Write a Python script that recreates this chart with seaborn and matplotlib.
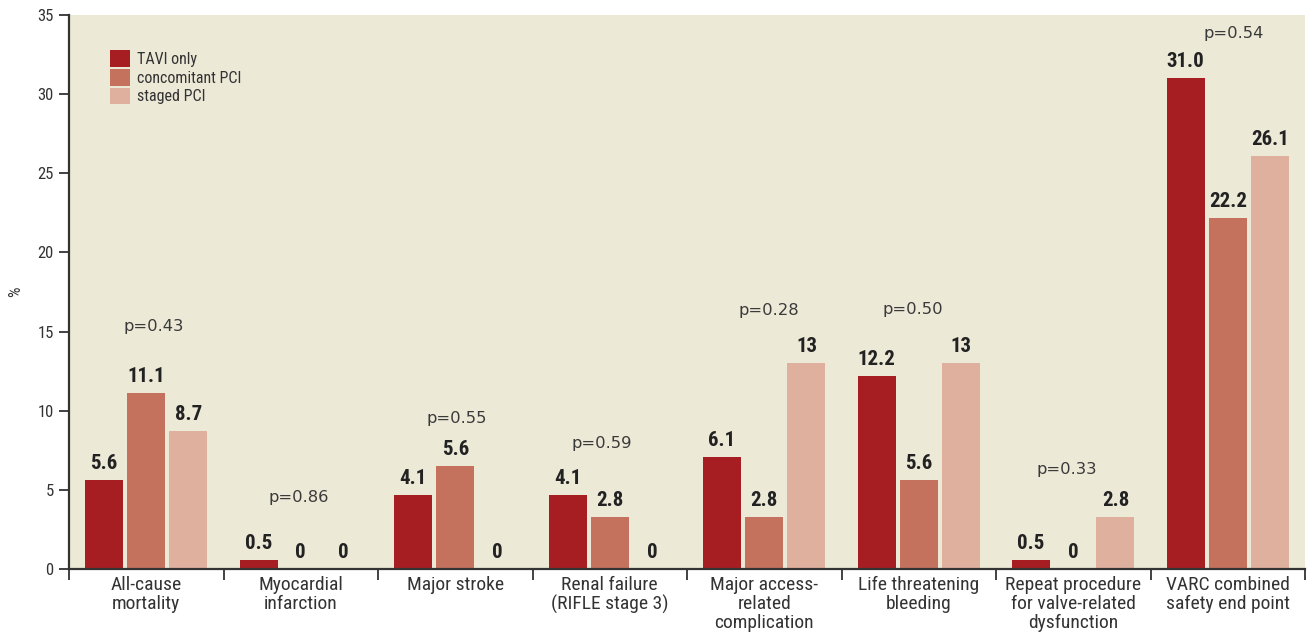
import matplotlib
matplotlib.use("Agg")
import matplotlib.pyplot as plt
from matplotlib import font_manager as fm
import seaborn as sns
import pandas as pd
import numpy as np
from matplotlib.ticker import FixedLocator

categories = ["All-cause\nmortality", "Myocardial\ninfarction", "Major stroke",
              "Renal failure\n(RIFLE stage 3)", "Major access-\nrelated\ncomplication",
              "Life threatening\nbleeding", "Repeat procedure\nfor valve-related\ndysfunction",
              "VARC combined\nsafety end point"]
groups = ["TAVI only", "concomitant PCI", "staged PCI"]

# bar heights as drawn in the picture
tavi_only = [5.6, 0.6, 4.7, 4.7, 7.1, 12.2, 0.6, 31.0]
concomitant_pci = [11.1, 0.0, 6.5, 3.3, 3.3, 5.6, 0.0, 22.2]
staged_pci = [8.7, 0.0, 0.0, 0.0, 13.0, 13.0, 3.3, 26.1]

# printed value labels
tavi_labels = ["5.6", "0.5", "4.1", "4.1", "6.1", "12.2", "0.5", "31.0"]
conc_labels = ["11.1", "0", "5.6", "2.8", "2.8", "5.6", "0", "22.2"]
staged_labels = ["8.7", "0", "0", "0", "13", "13", "2.8", "26.1"]

p_values = ["p=0.43", "p=0.86", "p=0.55", "p=0.59", "p=0.28", "p=0.50", "p=0.33", "p=0.54"]
p_y = [15.3, 4.5, 9.5, 7.9, 16.3, 16.4, 6.3, 33.8]
p_dx = [0.05, -0.01, 0.01, -0.05, 0.03, -0.04, -0.04, 0.04]

colors = ["#A61E22", "#C4725E", "#E0B09E"]
bg = "#ECE9D7"
dark = "#333333"

sns.set_theme(style="white")

# pick a condensed sans if one is installed
cond = [f for f in fm.fontManager.ttflist
        if f.stretch in ("condensed", "semi-condensed", "extra-condensed")]
cond_names = {f.name for f in cond}
bold_names = {f.name for f in cond if (isinstance(f.weight, int) and f.weight >= 600)
              or f.weight in ("bold", "semibold", "demibold", "heavy", "black")}
choice = None
for pref in ["Liberation Sans Narrow", "Roboto Condensed", "DejaVu Sans Condensed",
             "DejaVu Sans", "Noto Sans", "Open Sans"]:
    if pref in cond_names and pref in bold_names:
        choice = pref
        break
if choice is None:
    for n in sorted(cond_names):
        if n in bold_names and "Sans" in n and "CJK" not in n and "Mono" not in n:
            choice = n
            break

if choice is not None:
    main_font = [choice, "DejaVu Sans"]
    stretch = "condensed"
    sz = dict(val=15, cat=14, tick=12, leg=11.5, ylab=12)
else:
    main_font = ["Liberation Sans", "DejaVu Sans"]
    stretch = "normal"
    sz = dict(val=12.5, cat=12, tick=10.5, leg=10.5, ylab=11)

plt.rcParams['font.family'] = main_font
plt.rcParams['font.stretch'] = stretch

df = pd.DataFrame({
    "category": categories * 3,
    "group": [g for g in groups for _ in categories],
    "value": tavi_only + concomitant_pci + staged_pci,
})

fig = plt.figure(figsize=(13.08, 6.34), dpi=100)
ax = fig.add_axes([69/1308, 1 - 569/634, (1305-69)/1308, (569-15)/634])
ax.set_facecolor(bg)

sns.barplot(data=df, x="category", y="value", hue="group", order=categories,
            hue_order=groups, palette=colors, width=0.82, gap=0.1,
            saturation=1, ax=ax, errorbar=None, legend=True,
            edgecolor="none", linewidth=0)

for cont, labs in zip(ax.containers, [tavi_labels, conc_labels, staged_labels]):
    ax.bar_label(cont, labels=labs, padding=5, fontsize=sz["val"], fontweight="bold",
                 color="#222222", fontstretch=stretch)

for i, (p, y, dx) in enumerate(zip(p_values, p_y, p_dx)):
    ax.text(i + dx, y, p, ha="center", va="center", fontsize=11.8,
            color="#3a3a3a", family="DejaVu Sans", fontstretch="normal")

ax.set_xlim(-0.5, len(categories) - 0.5)
ax.set_ylim(0, 35)
ax.set_yticks(np.arange(0, 36, 5))
ax.set_ylabel("%", fontsize=sz["ylab"], color=dark, labelpad=10)
ax.set_xlabel("")

ax.tick_params(axis="y", which="major", length=7, width=1.3, color=dark,
               labelsize=sz["tick"], labelcolor=dark, pad=4, left=True)
ax.tick_params(axis="x", which="major", length=0, labelsize=sz["cat"],
               labelcolor=dark, pad=5)
ax.xaxis.set_minor_locator(FixedLocator(np.arange(-0.5, len(categories), 1.0)))
ax.tick_params(axis="x", which="minor", length=8, width=1.3, color=dark,
               bottom=True, direction="out")
for lab in ax.get_xticklabels():
    lab.set_linespacing(1.06)

for s in ["top", "right"]:
    ax.spines[s].set_visible(False)
for s in ["left", "bottom"]:
    ax.spines[s].set_color(dark)
    ax.spines[s].set_linewidth(1.6)

leg = ax.legend(loc="upper left", bbox_to_anchor=(0.033, 0.937), frameon=False,
                fontsize=sz["leg"], handlelength=1.25, handleheight=1.25,
                labelspacing=0.12, handletextpad=0.45, borderaxespad=0,
                borderpad=0)
for t in leg.get_texts():
    t.set_color(dark)

fig.savefig("out.png", dpi=100, facecolor="white")
